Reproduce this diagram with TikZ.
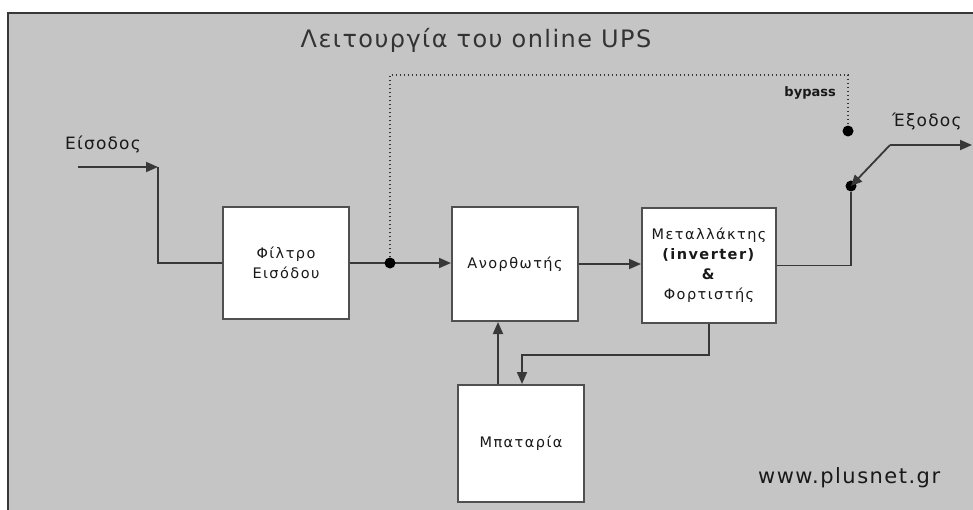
\documentclass[tikz,border=0pt]{standalone}
\usepackage{fontspec}
\setmainfont{DejaVu Sans}
\usetikzlibrary{arrows.meta}
\definecolor{bg}{HTML}{C5C5C5}
\definecolor{ln}{HTML}{383838}
\definecolor{bx}{HTML}{505050}
\begin{document}
\begin{tikzpicture}[x=1pt,y=-1pt,
  blk/.style={draw=bx, line width=2pt, fill=white, inner sep=0pt, anchor=north west, align=center, text=black!90, font=\addfontfeatures{LetterSpace=10}\fontsize{14.5}{20}\selectfont},
  wire/.style={draw=ln, line width=1.8pt},
  arr/.style={wire, -{Triangle[length=12pt,width=10pt]}},
  jdot/.style={circle, fill=black, inner sep=0pt, minimum size=11pt},
  byp/.style={draw=ln, line width=1.5pt, dash pattern=on 1.5pt off 2.5pt},
  lbl/.style={font=\addfontfeatures{LetterSpace=7}\fontsize{17}{20}\selectfont, text=black!90, inner sep=0pt}
  ]
\useasboundingbox (0,0) rectangle (973,509);
\fill[white] (0,0) rectangle (973,509);
\fill[bg] (8,13) rectangle (980,515);
\draw[ln, line width=2.2pt] (8,520) -- (8,13) -- (980,13);

% title
\node[font=\addfontfeatures{LetterSpace=6}\fontsize{24}{28}\selectfont, text=black!80, inner sep=0pt] (title) at (476,40) {Λειτουργία του online UPS};

% blocks
\node[blk, minimum width=126pt, minimum height=112pt] (filt) at (222,206) {Φίλτρο\\Εισόδου};
\node[blk, minimum width=126pt, minimum height=114pt] (anor) at (451,206) {Ανορθωτής};
\node[blk, minimum width=134pt, minimum height=115pt] (inv) at (641,207) {Μεταλλάκτης\\\textbf{(inverter)}\\\textbf{\&}\\Φορτιστής};
\node[blk, minimum width=126pt, minimum height=117pt] (bat) at (457,384) {Μπαταρία};

% input
\node[lbl] (inL) at (103,144) {Είσοδος};
\coordinate (inS) at (78,167);
\coordinate (inC) at (158,167);
\draw[arr] (inS) -- (inC);
\draw[wire] (inC) |- (filt.west);

% filter -> rectifier with junction
\path (filt.east) -- ++(40,0) coordinate (j);
\draw[arr] (filt.east) -- (filt.east -| anor.west);
\node[jdot] (jd) at (j) {};

% bypass
\coordinate (bpc) at (848,75);
\node[jdot] (bd) at (848,131) {};
\draw[byp] (jd) |- (bpc) -- (bd);
\node[font=\bfseries\fontsize{13}{15}\selectfont, anchor=east, inner sep=0pt, text=black!90] (bpl) at (836,93) {bypass};

% rectifier -> inverter
\draw[arr] (anor.east) -- (anor.east -| inv.west);

% output switch
\node[jdot] (sd) at (851,186) {};
\draw[wire] (inv.east) -| (sd);
\coordinate (sw) at (890,145);
\coordinate (outE) at (972,145);
\draw[wire, {Triangle[length=11pt,width=10pt]}-] (sd.center) -- (sw);
\draw[arr] (sw) -- (outE);
\node[lbl, anchor=west] (outL) at (892,121) {Έξοδος};

% battery
\coordinate (bu) at ([xshift=-23pt]bat.north);
\draw[arr] (bu) -- (bu |- anor.south);
\coordinate (bt) at ([xshift=1pt]bat.north);
\draw[arr] (inv.south) |- (bt |- 0,355) -- (bt);

% web
\node[font=\addfontfeatures{LetterSpace=7}\fontsize{21}{24}\selectfont, anchor=west, inner sep=0pt, text=black!90] (www) at (758,478) {www.plusnet.gr};
\end{tikzpicture}
\end{document}
